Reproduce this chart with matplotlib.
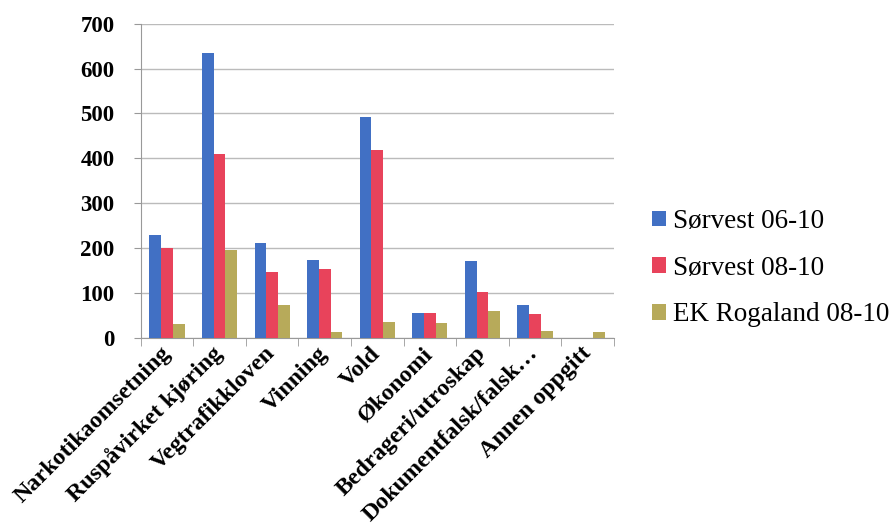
import matplotlib
matplotlib.use("Agg")
import matplotlib.pyplot as plt
import numpy as np

categories = ["Narkotikaomsetning", "Ruspåvirket kjøring", "Vegtrafikkloven", "Vinning",
              "Vold", "Økonomi", "Bedrageri/utroskap", "Dokumentfalsk/falsk…", "Annen oppgitt"]
series_names = ["Sørvest 06-10", "Sørvest 08-10", "EK Rogaland 08-10"]
sorvest_0610 = [230, 635, 212, 173, 492, 55, 172, 73, 0]
sorvest_0810 = [200, 410, 147, 153, 418, 55, 103, 52, 0]
ek_rogaland_0810 = [30, 195, 73, 12, 35, 33, 60, 15, 12]
yticks = [0, 100, 200, 300, 400, 500, 600, 700]

colors = ["#4170C4", "#E8435B", "#B7AA5A"]
plt.rcParams['font.family'] = ['Liberation Serif', 'DejaVu Serif']

fig = plt.figure(figsize=(8.91, 5.27), dpi=100)
ax = fig.add_axes([0.158, 0.359, 0.531, 0.596])

x = np.arange(len(categories))
w = 0.223
for i, (vals, c) in enumerate(zip([sorvest_0610, sorvest_0810, ek_rogaland_0810], colors)):
    ax.bar(x + (i - 1) * w, vals, width=w, color=c, label=series_names[i], zorder=3)

ax.set_xlim(-0.5, len(categories) - 0.5)
ax.set_ylim(0, 700)
ax.set_yticks(yticks)
ax.set_yticklabels([str(v) for v in yticks], fontsize=16.5, fontweight='bold')
ax.tick_params(axis='y', length=5, color='#999999', pad=14)
ax.yaxis.grid(True, color='#BBBBBB', linewidth=1, zorder=0)
ax.set_xticks(x)
ax.set_xticklabels(categories, rotation=45, ha='right', va='center', rotation_mode='anchor',
                   fontsize=17.3, fontweight='bold')
ax.tick_params(axis='x', length=0, pad=9)
ax.set_xticks(np.arange(len(categories) + 1) - 0.5, minor=True)
ax.tick_params(axis='x', which='minor', length=6, color='#999999')
for s in ['top', 'right']:
    ax.spines[s].set_visible(False)
for s in ['left', 'bottom']:
    ax.spines[s].set_color('#999999')

fig.legend(*ax.get_legend_handles_labels(), loc='center left', bbox_to_anchor=(0.717, 0.491),
           frameon=False, prop={'size': 19.5}, borderpad=0,
           handlelength=0.5, handleheight=0.5, handletextpad=0.26, labelspacing=0.8)

fig.savefig("out.png", dpi=100)
